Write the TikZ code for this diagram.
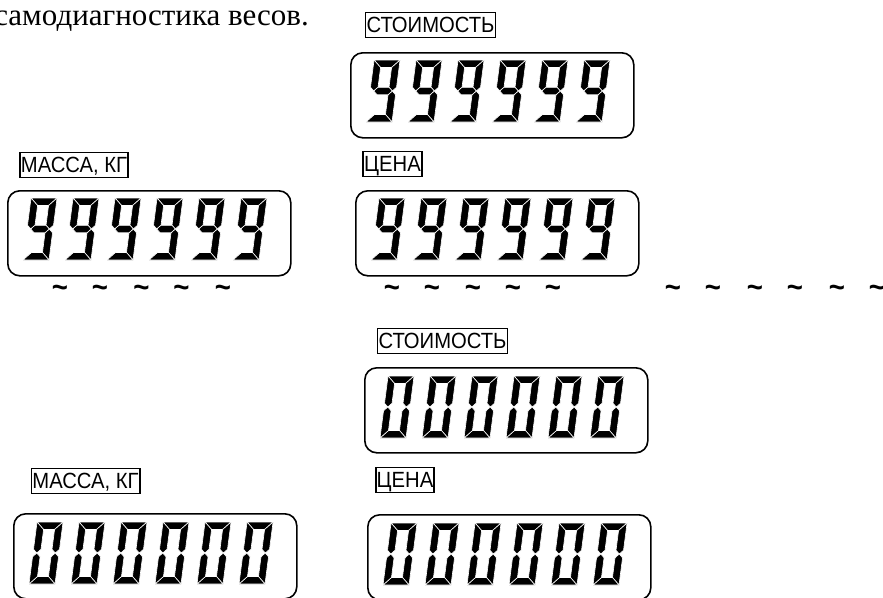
\documentclass[tikz,border=0pt]{standalone}
\usepackage{fontspec}
\setmainfont{Liberation Serif}
\newfontfamily\lsans[FakeStretch=0.92]{Liberation Sans}
\usetikzlibrary{calc}
\newcommand\sgA{\fill[seg] (0,62)--(26,62)--(18.5,54.5)--(7.5,54.5)--cycle;}
\newcommand\sgB{\fill[seg] (26,62)--(18.5,54.5)--(18.5,34.75)--(22.25,31)--(26,34.75)--cycle;}
\newcommand\sgC{\fill[seg] (26,0)--(18.5,7.5)--(18.5,27.25)--(22.25,31)--(26,27.25)--cycle;}
\newcommand\sgD{\fill[seg] (0,0)--(26,0)--(18.5,7.5)--(7.5,7.5)--cycle;}
\newcommand\sgE{\fill[seg] (0,0)--(7.5,7.5)--(7.5,27.25)--(3.75,31)--(0,27.25)--cycle;}
\newcommand\sgF{\fill[seg] (0,62)--(7.5,54.5)--(7.5,34.75)--(3.75,31)--(0,34.75)--cycle;}
\newcommand\sgG{\fill[seg] (3.75,31)--(7.5,34.75)--(18.5,34.75)--(22.25,31)--(18.5,27.25)--(7.5,27.25)--cycle;}
\tikzset{
  seg/.style={fill=black, draw=white, line width=0.6pt, line join=miter},
  nine/.pic={\begin{scope}[x=1pt,y=1pt,xslant=0.13]\sgA\sgB\sgC\sgD\sgF\sgG\end{scope}},
  zero/.pic={\begin{scope}[x=1pt,y=1pt,xslant=0.13]\sgA\sgB\sgC\sgD\sgE\sgF\end{scope}},
  disp/.style={draw, line width=1.6pt, rounded corners=12pt, minimum width=283pt, minimum height=85pt, anchor=north west, inner sep=0pt},
  lbl/.style={draw, line width=1.8pt, font=\lsans\fontsize{22}{26}\selectfont, inner xsep=1pt, inner ysep=0pt, minimum height=25pt, text height=15.8pt, text depth=0pt},
  tld/.style={font=\lsans\bfseries\fontsize{30}{34}\selectfont, inner sep=0pt},
  ttl/.style={font=\fontsize{31}{37}\selectfont, inner sep=0pt, anchor=base east}
}
\begin{document}
\begin{tikzpicture}[x=1pt,y=-1pt]
\path[use as bounding box, clip] (0,0) rectangle (883,597);
\node[ttl] (title) at (309,25) {самодиагностика весов.};
% labels
\node[lbl] (l1) at (430.5,25) {СТОИМОСТЬ};
\node[lbl] (l2) at (74,165) {МАССА, КГ};
\node[lbl] (l3) at (392.5,164) {ЦЕНА};
\node[lbl] (l4) at (442.5,341) {СТОИМОСТЬ};
\node[lbl] (l5) at (85.5,481) {МАССА, КГ};
\node[lbl] (l6) at (405,480) {ЦЕНА};
% displays
\node[disp] (d1) at (350,52) {};
\node[disp] (d2) at (7,190) {};
\node[disp] (d3) at (355,190) {};
\node[disp] (d4) at (364,367) {};
\node[disp] (d5) at (13,513) {};
\node[disp] (d6) at (367,514) {};
\foreach \d in {d1,d2,d3}{
  \foreach \i in {0,...,5}{
    \pic at ($(\d.north west)+(16+42*\i,70)$) {nine};
  }
}
\foreach \d in {d4,d5,d6}{
  \foreach \i in {0,...,5}{
    \pic at ($(\d.north west)+(16+42*\i,71)$) {zero};
  }
}
% tildes
\foreach \x [count=\k] in {60,100,141.5,181.5,223,392,432,473,513,553,673,713,755,795,837,877}{
  \node[tld] (t\k) at (\x,291) {\textasciitilde};
}
\end{tikzpicture}
\end{document}
